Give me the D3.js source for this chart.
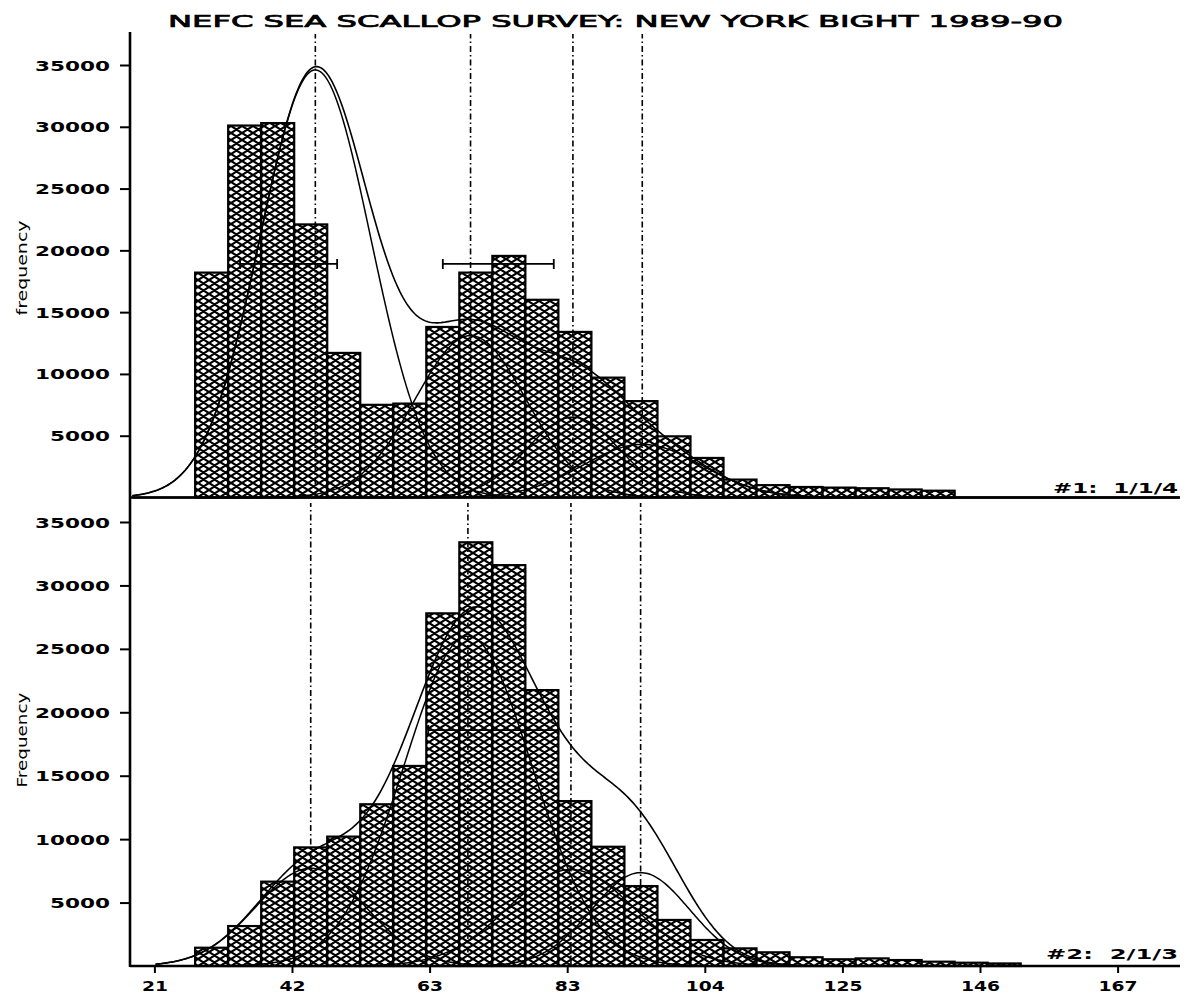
<!DOCTYPE html>
<html><head><meta charset="utf-8">
<script src="https://cdn.jsdelivr.net/npm/d3@7"></script>
<style>body{margin:0;background:#fff}svg{display:block}</style>
</head><body>
<svg id="c" width="1201" height="999"></svg>
<script>
// ---------- data ----------
const titleText = "NEFC SEA SCALLOP SURVEY: NEW YORK BIGHT 1989-90";
const xTickValues = [20.833, 41.667, 62.5, 83.333, 104.167, 125, 145.833, 166.667];
const xTickLabels = ["21", "42", "63", "83", "104", "125", "146", "167"];
const yTickValues = [5000, 10000, 15000, 20000, 25000, 30000, 35000];
const binWidth = 5;
const binLow1 = [27,32,37,42,47,52,57,62,67,72,77,82,87,92,97,102,107,112,117,122,127,132,137];
const freq1   = [18200,30100,30300,22100,11700,7500,7600,13800,18200,19550,16000,13400,9700,7800,4950,3200,1450,1000,850,800,750,650,550];
const binLow2 = [27,32,37,42,47,52,57,62,67,72,77,82,87,92,97,102,107,112,117,122,127,132,137,142,147];
const freq2   = [1440,3150,6650,9350,10200,12750,15770,27800,33400,31600,21750,13000,9400,6300,3630,2050,1390,1080,690,530,600,470,340,260,200];
// fitted normal components (mean, sd, peak height) per sample
const compMean1 = [45.2, 68.7, 84.2, 94.7];
const compSd1   = [8.4, 8.4, 7.0, 9.0];
const compPeak1 = [34600, 13100, 6500, 4300];
const compMean2 = [44.5, 68.3, 83.9, 94.45];
const compSd2   = [8.3, 9.7, 9.5, 7.4];
const compPeak2 = [7700, 26000, 7600, 7360];
// error bars [from, to] at a frequency level
const errLevel1 = 18900;
const errBars1 = [[33.8, 48.5], [64.5, 81.3]];
const errLevel2 = 18600;
const errBars2 = [[62.3, 82.0]];
const panelLabel1 = "#1:  1/1/4";
const panelLabel2 = "#2:  2/1/3";

// ---------- drawing ----------
const svg = d3.select("#c");
const x = d3.scaleLinear().domain([20.833, 166.667]).range([154.4, 1117.6]);
const y1 = d3.scaleLinear().domain([0, 35000]).range([497.5, 65]);
const y2 = d3.scaleLinear().domain([0, 35000]).range([966, 522]);
const xLeft = 130, xRight = 1180;

const defs = svg.append("defs");
const pat = defs.append("pattern").attr("id", "hatch")
  .attr("patternUnits", "userSpaceOnUse").attr("width", 11).attr("height", 7);
pat.append("rect").attr("width", 11).attr("height", 7).attr("fill", "#fff");
pat.append("path")
  .attr("d", "M-11,-7L22,14M-11,0L11,14M0,-7L22,7M-11,14L22,-7M-11,7L11,-7M0,14L22,0")
  .attr("stroke", "#000").attr("stroke-width", 2.2).attr("fill", "none");

const font = "'DejaVu Sans', sans-serif";

function panel(binLow, freq, y, means, sds, peaks, vStart) {
  const g = svg.append("g");
  g.selectAll("rect.bar").data(binLow.map((b, i) => ({ lo: b, f: freq[i] })))
    .join("rect").attr("class", "bar")
    .attr("x", d => x(d.lo)).attr("width", d => x(d.lo + binWidth) - x(d.lo))
    .attr("y", d => y(d.f)).attr("height", d => y(0) - y(d.f))
    .attr("fill", "url(#hatch)").attr("stroke", "#000").attr("stroke-width", 2.2);

  const vs = d3.range(vStart, 176.01, 0.25);
  const comp = (k, v) => peaks[k] * Math.exp(-((v - means[k]) ** 2) / (2 * sds[k] ** 2));
  const line = d3.line().x(d => x(d[0])).y(d => y(d[1]));
  means.forEach((m, k) => {
    g.append("path").attr("d", line(vs.map(v => [v, comp(k, v)])))
      .attr("fill", "none").attr("stroke", "#000").attr("stroke-width", 1.5);
  });
  g.append("path").attr("d", line(vs.map(v => [v, d3.sum(means, (m, k) => comp(k, v))])))
    .attr("fill", "none").attr("stroke", "#000").attr("stroke-width", 1.6);

  g.selectAll("line.mean").data(means).join("line").attr("class", "mean")
    .attr("x1", d => x(d)).attr("x2", d => x(d))
    .attr("y1", y(0))
    .attr("stroke", "#000").attr("stroke-width", 1.6)
    .attr("stroke-dasharray", "6,3,1.5,3");
  return g;
}

const g1 = panel(binLow1, freq1, y1, compMean1, compSd1, compPeak1, 17.5);
const g2 = panel(binLow2, freq2, y2, compMean2, compSd2, compPeak2, 21);
g1.selectAll("line.mean").attr("y2", 34);
g2.selectAll("line.mean").attr("y2", 503);

function errorBars(list, level, y) {
  list.forEach(([a, b]) => {
    const yy = y(level);
    svg.append("path")
      .attr("d", `M${x(a)},${yy}H${x(b)}M${x(a)},${yy - 5}V${yy + 5}M${x(b)},${yy - 5}V${yy + 5}`)
      .attr("stroke", "#000").attr("stroke-width", 1.8).attr("fill", "none");
  });
}
errorBars(errBars1, errLevel1, y1);
errorBars(errBars2, errLevel2, y2);

// axes
const axG = svg.append("g");
axG.append("line").attr("x1", xLeft).attr("x2", xLeft).attr("y1", 32).attr("y2", y2(0) + 1)
  .attr("stroke", "#000").attr("stroke-width", 2.6);
[y1, y2].forEach(y => {
  axG.append("line").attr("x1", xLeft).attr("x2", xRight).attr("y1", y(0)).attr("y2", y(0))
    .attr("stroke", "#000").attr("stroke-width", 2.4);
  const ya = d3.axisLeft(y).tickValues(yTickValues).tickSize(10).tickPadding(10)
    .tickFormat(d3.format("d"));
  const ag = svg.append("g").attr("transform", `translate(${xLeft},0)`).call(ya);
  ag.select(".domain").remove();
  ag.selectAll(".tick line").attr("stroke", "#000").attr("stroke-width", 2);
  ag.selectAll(".tick text").attr("font-family", font).attr("font-weight", "bold")
    .attr("font-size", 14).attr("fill", "#000")
    .attr("textLength", d => String(d).length * 15).attr("lengthAdjust", "spacingAndGlyphs")
    .attr("x", -20).attr("dy", "0.36em");
});
const xa = d3.axisBottom(x).tickValues(xTickValues).tickSize(7).tickPadding(8)
  .tickFormat((d, i) => xTickLabels[i]);
const xg = svg.append("g").attr("transform", `translate(0,${y2(0)})`).call(xa);
xg.select(".domain").remove();
xg.selectAll(".tick line").attr("stroke", "#000").attr("stroke-width", 2);
xg.selectAll(".tick text").attr("font-family", font).attr("font-weight", "bold")
  .attr("font-size", 14).attr("fill", "#000")
  .attr("textLength", (d, i) => xTickLabels[i].length * 13).attr("lengthAdjust", "spacingAndGlyphs");

// texts
svg.append("text").attr("x", 168).attr("y", 27).text(titleText)
  .attr("font-family", font).attr("font-size", 16.5).attr("font-weight", "normal")
  .attr("stroke", "#000").attr("stroke-width", 0.7)
  .attr("textLength", 895).attr("lengthAdjust", "spacingAndGlyphs");
[["frequency", 268], ["Frequency", 740]].forEach(([t, cy]) => {
  svg.append("text").attr("transform", `translate(27,${cy}) rotate(-90)`)
    .attr("text-anchor", "middle").text(t)
    .attr("font-family", font).attr("font-size", 14)
    .attr("textLength", 95).attr("lengthAdjust", "spacingAndGlyphs");
});
svg.append("text").attr("x", 1178).attr("y", 493).attr("text-anchor", "end").text(panelLabel1)
  .attr("font-family", font).attr("font-size", 13.5).attr("font-weight", "bold")
  .attr("textLength", 125).attr("lengthAdjust", "spacingAndGlyphs").attr("xml:space", "preserve");
svg.append("text").attr("x", 1178).attr("y", 959).attr("text-anchor", "end").text(panelLabel2)
  .attr("font-family", font).attr("font-size", 13.5).attr("font-weight", "bold")
  .attr("textLength", 132).attr("lengthAdjust", "spacingAndGlyphs").attr("xml:space", "preserve");
</script>
</body></html>
